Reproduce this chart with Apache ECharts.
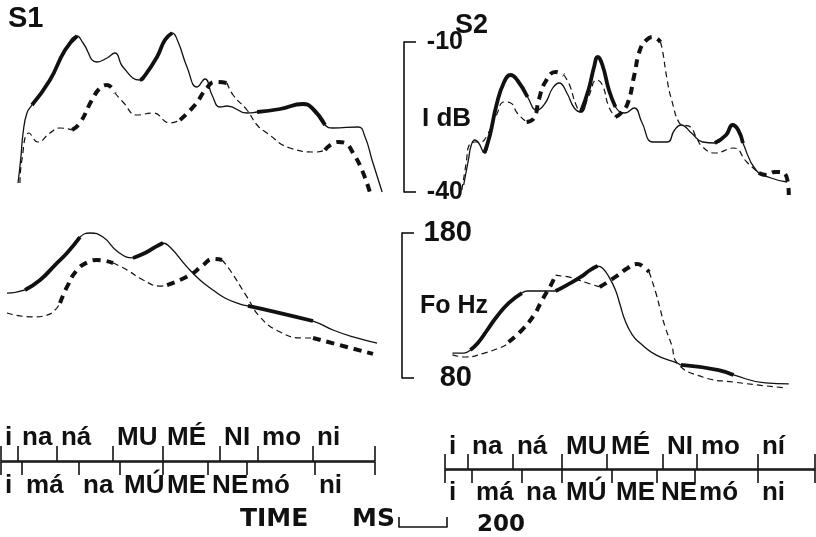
<!DOCTYPE html>
<html>
<head>
<meta charset="utf-8">
<script src="https://cdn.jsdelivr.net/npm/echarts@6/dist/echarts.min.js"></script>
<style>
html,body{margin:0;padding:0;background:#fff;}
#c{width:816px;height:537px;}
</style>
</head>
<body>
<div id="c"></div>
<script>
// ---------- DATA (time in ms, intensity in dB, F0 in Hz) ----------
const s1IntSolid = [[71,-38.2],[83,-33],[92,-28.2],[108,-24.2],[129,-22.6],[204,-17.6],[267,-11.6],[317,-8.8],[342,-10.2],[400,-14],[442,-13.2],[475,-12.2],[508,-15],[579,-17.6],[592,-17.2],[650,-13],[683,-9.6],[713,-8.2],[738,-10],[775,-15],[817,-19],[850,-17.4],[879,-20.6],[913,-23],[942,-22.8],[1025,-24.2],[1067,-24],[1163,-23.4],[1258,-22.4],[1296,-23.2],[1350,-26.6],[1383,-27.2],[1488,-27],[1517,-29],[1546,-33.6],[1588,-40]];
const s1IntSolidBold = [[129,317],[579,713],[1067,1350]];
const s1IntDash = [[79,-38.2],[87,-33.6],[117,-28.2],[154,-30],[204,-28.2],[246,-27.2],[296,-27.6],[329,-26.2],[379,-21.6],[413,-19.2],[442,-18.6],[475,-20.2],[508,-22],[567,-24.6],[633,-24.2],[704,-26.2],[746,-25.6],[808,-22.6],[858,-19.2],[892,-18],[942,-18.2],[967,-20.6],[1025,-23.6],[1067,-26.6],[1108,-28.2],[1204,-31.2],[1317,-32],[1350,-31.6],[1404,-30],[1433,-30.2],[1467,-32.2],[1504,-35.6],[1538,-40.2]];
const s1IntDashBold = [[296,475],[746,942],[1350,1538]];

const s2IntSolid = [[83,-38.6],[104,-33.6],[117,-30.6],[133,-29.6],[150,-30.2],[175,-32.2],[200,-28.6],[229,-22.6],[263,-18],[292,-16.6],[321,-17.6],[367,-21],[408,-23.6],[446,-22.2],[479,-19.2],[508,-18.2],[542,-20.2],[575,-23.2],[604,-24],[638,-19.6],[663,-15],[679,-13],[700,-14.6],[729,-19.6],[758,-23],[800,-24.2],[842,-23.2],[875,-26],[925,-30],[988,-30],[1021,-27.6],[1050,-26.6],[1096,-28.2],[1146,-30],[1200,-30.2],[1250,-28.6],[1279,-26.6],[1304,-27.6],[1325,-30.2],[1383,-35.6],[1450,-37.2],[1521,-38]];
const s2IntSolidBold = [[175,367],[604,758],[1200,1325]];
const s2IntDash = [[75,-39.6],[96,-33.6],[104,-31],[133,-30],[158,-30],[188,-28.6],[229,-24.6],[263,-22],[292,-22.2],[321,-24.2],[363,-26],[396,-25.2],[417,-21.6],[446,-18],[492,-16],[529,-16.6],[554,-18.6],[583,-22.6],[604,-24],[638,-21],[675,-17.6],[700,-18.6],[729,-23],[758,-25],[783,-24.2],[813,-22.2],[842,-16.6],[867,-11.6],[896,-9.6],[925,-9],[958,-10],[967,-11.6],[988,-17.6],[1008,-21.6],[1042,-26.2],[1063,-26.6],[1092,-27],[1117,-29],[1146,-31],[1200,-32.2],[1283,-31.2],[1342,-34],[1396,-36.2],[1429,-36.6],[1467,-36],[1508,-36.2],[1529,-40.6]];
const s2IntDashBold = [[363,529],[758,958],[1396,1529]];

const s1F0Solid = [[25,138.6],[100,140.7],[163,147.6],[225,157.9],[275,166.2],[329,177.2],[371,180],[425,177.2],[488,166.9],[550,162.8],[600,166.2],[642,170.3],[675,173.1],[704,170.3],[775,156.6],[829,147.6],[883,140.7],[933,135.2],[996,131],[1029,129.7],[1163,124.8],[1300,119.3],[1383,113.1],[1467,108.3],[1567,104.1]];
const s1F0SolidBold = [[100,329],[550,675],[1029,1300]];
const s1F0Dash = [[25,124.8],[133,122.1],[192,123.4],[225,126.9],[246,131.7],[275,142.8],[317,154.5],[363,160],[400,161.4],[467,159.3],[525,154.5],[592,147.6],[663,143.4],[692,144.1],[788,151],[842,157.9],[883,162.1],[921,161.4],[954,154.5],[1025,135.9],[1079,122.1],[1163,111.7],[1258,107.6],[1300,107.6],[1425,102.1],[1550,96.6]];
const s1F0DashBold = [[246,467],[692,921],[1300,1550]];

const s2F0Solid = [[33,97.2],[83,97.2],[113,99.3],[146,104.1],[188,113.1],[229,122.1],[283,131.7],[342,138.6],[367,140],[492,140],[542,144.1],[604,149.7],[646,154.5],[679,157.2],[700,155.9],[729,149.7],[758,140.7],[779,130.3],[800,120],[833,109.7],[867,104.1],[938,95.9],[1033,90.3],[1050,89],[1217,85.5],[1283,82.1],[1425,76.6],[1529,75.9]];
const s2F0SolidBold = [[113,342],[492,679],[1050,1283]];
const s2F0Dash = [[33,95.9],[92,94.5],[175,97.2],[229,100],[271,102.8],[283,104.8],[342,113.1],[396,123.4],[425,131.7],[450,138.6],[467,142.8],[492,151],[521,150.3],[550,149.7],[633,145.5],[688,142.8],[758,149.7],[813,155.9],[854,158.6],[883,156.6],[908,153.1],[938,138.6],[958,126.9],[979,115.2],[1008,102.8],[1033,90.3],[1146,80.7],[1283,77.2],[1521,73.1]];
const s2F0DashBold = [[283,492],[688,908]];

// syllable timelines (onset times in ms, last value = end)
const s1UpperOnsets = [0,71,233,467,675,913,1071,1300,1558];
const s1UpperSyll = ['i','na','ná','MU','MÉ','NI','mo','ni'];
const s1LowerOnsets = [0,88,325,496,675,863,1025,1308,1558];
const s1LowerSyll = ['i','má','na','MÚ','ME','NE','mó','ni'];
const s2UpperOnsets = [0,96,283,488,675,908,1050,1304,1542];
const s2UpperSyll = ['i','na','ná','MU','MÉ','NI','mo','ní'];
const s2LowerOnsets = [0,113,321,488,696,883,1042,1304,1542];
const s2LowerSyll = ['i','má','na','MÚ','ME','NE','mó','ni'];

const intTicks = [-40,-10];
const f0Ticks = [80,180];
const scaleBarMs = 200;

// ---------- LAYOUT ----------
const PX_PER_MS = 0.24;
const X_MAX = 1650;
const FONT = 'Liberation Sans';
const WIDE = 'DejaVu Sans';
const INK = '#111';

const grids = [
  {left:1, top:42, width:X_MAX*PX_PER_MS, height:150},     // 0 S1 intensity
  {left:445, top:42, width:X_MAX*PX_PER_MS, height:150},   // 1 S2 intensity
  {left:1, top:233, width:X_MAX*PX_PER_MS, height:145},    // 2 S1 F0
  {left:445, top:233, width:X_MAX*PX_PER_MS, height:145},  // 3 S2 F0
  {left:1, top:461, width:1558*PX_PER_MS, height:1},       // 4 S1 timeline
  {left:445, top:469, width:1542*PX_PER_MS, height:1},     // 5 S2 timeline
  {left:399, top:526, width:scaleBarMs*PX_PER_MS, height:1} // 6 scale bar
];

const hiddenX = g => ({type:'value', gridIndex:g, min:0, max:X_MAX, show:false});
const xAxes = [hiddenX(0), hiddenX(1), hiddenX(2), hiddenX(3)];

function timelineAxis(g, pos, onsets, syll, tickLen, margin) {
  return {
    type:'value', gridIndex:g, position:pos, min:0, max:onsets[onsets.length-1],
    axisLine:{show:true, onZero:false, lineStyle:{color:INK, width:1.6}},
    axisTick:{show:true, customValues:onsets, length:tickLen, lineStyle:{color:INK, width:1.6}},
    splitLine:{show:false},
    axisLabel:{
      show:true, customValues:onsets.slice(0,-1),
      formatter: v => { const i = onsets.indexOf(v); return i >= 0 ? syll[i] : ''; },
      align:'left', padding:[0,0,0,4], margin:margin,
      fontFamily:FONT, fontSize:26, fontWeight:'bold', color:INK
    }
  };
}
xAxes.push(timelineAxis(4,'top',s1UpperOnsets,s1UpperSyll,15,10));
xAxes.push(timelineAxis(4,'bottom',s1LowerOnsets,s1LowerSyll,13,11));
xAxes.push(timelineAxis(5,'top',s2UpperOnsets,s2UpperSyll,15,9));
xAxes.push(timelineAxis(5,'bottom',s2LowerOnsets,s2LowerSyll,13,10));
xAxes.push({
  type:'value', gridIndex:6, min:0, max:scaleBarMs,
  axisLine:{show:true, onZero:false, lineStyle:{color:INK, width:1.6}},
  axisTick:{show:true, inside:true, customValues:[0,scaleBarMs], length:10, lineStyle:{color:INK, width:1.6}},
  axisLabel:{show:false}, splitLine:{show:false},
  name:String(scaleBarMs), nameLocation:'end', nameGap:30,
  nameTextStyle:{fontFamily:WIDE, fontSize:23, fontWeight:'bold', color:INK, verticalAlign:'bottom', padding:[0,0,-10,0]}
});

const hiddenY = (g,min,max) => ({type:'value', gridIndex:g, min:min, max:max, show:false});
function shownY(g, min, max, ticks, offset, margin, size) {
  return {
    type:'value', gridIndex:g, min:min, max:max, offset:offset,
    axisLine:{show:true, onZero:false, lineStyle:{color:INK, width:1.6}},
    axisTick:{show:true, inside:true, length:12, customValues:ticks, lineStyle:{color:INK, width:1.6}},
    axisLabel:{show:true, inside:true, customValues:ticks, align:'right', margin:margin,
      fontFamily:FONT, fontSize:size, fontWeight:'bold', color:INK, padding:[4,0,0,0]},
    splitLine:{show:false}
  };
}
const yAxes = [
  hiddenY(0,-40,-10),
  shownY(1,-40,-10,intTicks,41,59,25),
  hiddenY(2,80,180),
  shownY(3,80,180,f0Ticks,43,70,29),
  hiddenY(4,0,1), hiddenY(5,0,1), hiddenY(6,0,1)
];

const series = [];
function baseSeries(axisIdx, data, width, dash) {
  return {
    type:'line', xAxisIndex:axisIdx, yAxisIndex:axisIdx, data:data,
    smooth:0.5, symbol:'none', clip:false, silent:true, animation:false,
    lineStyle:{color:INK, width:width, type:dash || 'solid', cap:'butt', join:'round'}
  };
}
function inRange(data, r) { return data.filter(p => p[0] >= r[0] && p[0] <= r[1]); }
function addSolid(axisIdx, data, bold) {
  series.push(baseSeries(axisIdx, data, 1.3));
  bold.forEach(r => series.push(baseSeries(axisIdx, inRange(data, r), 3.8)));
}
function addDashed(axisIdx, data, bold) {
  const cuts = [data[0][0]];
  bold.forEach(r => cuts.push(r[0], r[1]));
  cuts.push(data[data.length-1][0]);
  for (let i = 0; i < cuts.length - 1; i++) {
    const seg = inRange(data, [cuts[i], cuts[i+1]]);
    if (seg.length < 2) continue;
    const isBold = i % 2 === 1;
    series.push(baseSeries(axisIdx, seg, isBold ? 4 : 1.2, isBold ? [8,6] : [6,4]));
  }
}
addSolid(0, s1IntSolid, s1IntSolidBold);
addDashed(0, s1IntDash, s1IntDashBold);
addSolid(1, s2IntSolid, s2IntSolidBold);
addDashed(1, s2IntDash, s2IntDashBold);
addSolid(2, s1F0Solid, s1F0SolidBold);
addDashed(2, s1F0Dash, s1F0DashBold);
addSolid(3, s2F0Solid, s2F0SolidBold);
addDashed(3, s2F0Dash, s2F0DashBold);

const txt = (left, top, text, size, weight, family) => ({
  type:'text', left:left, top:top, silent:true,
  style:{text:text, fontFamily:family||FONT, fontSize:size, fontWeight:weight||'normal', fill:INK}
});

const chart = echarts.init(document.getElementById('c'), null, {renderer:'canvas'});
chart.setOption({
  backgroundColor:'#fff',
  animation:false,
  grid:grids,
  xAxis:xAxes,
  yAxis:yAxes,
  series:series,
  graphic:[
    txt(8, 4, 'S1', 29, 'bold'),
    txt(455, 12, 'S2', 27, 'bold'),
    txt(422, 106, 'I dB', 26, 'bold'),
    txt(420, 294, 'Fo Hz', 25, 'bold'),
    txt(240, 507, 'TIME', 25, 'bold', WIDE),
    txt(352, 507, 'MS', 25, 'bold', WIDE)
  ]
});
</script>
</body>
</html>
